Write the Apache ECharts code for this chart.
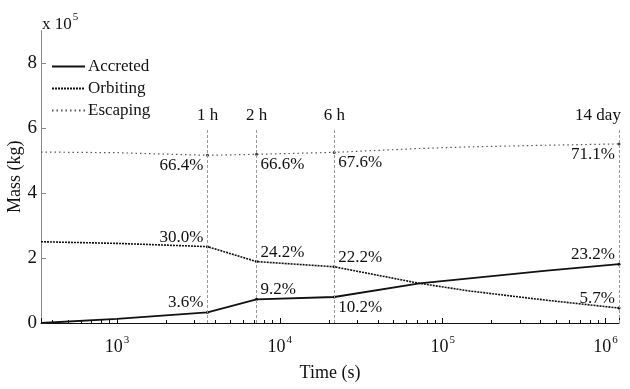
<!DOCTYPE html>
<html>
<head>
<meta charset="utf-8">
<script src="https://cdn.jsdelivr.net/npm/echarts@6/dist/echarts.min.js"></script>
<style>
  html, body { margin: 0; padding: 0; background: #fff; }
  #chart { width: 630px; height: 389px; }
</style>
</head>
<body>
<div id="chart"></div>
<script>
// time samples (s) and masses (x 1e5 kg)
const times = [342, 1000, 3600, 7200, 21600, 72000, 146000, 436000, 1209600]
const accreted = [0.0, 0.13, 0.33, 0.73, 0.80, 1.22, 1.375, 1.61, 1.81]
const orbiting = [2.50, 2.45, 2.35, 1.89, 1.73, 1.22, 0.985, 0.70, 0.46]
const escaping = [5.26, 5.24, 5.16, 5.19, 5.25, 5.37, 5.42, 5.47, 5.51]

// marked instants: index into times, label
const eventIdx = [2, 3, 4, 8]
const eventNames = ['1 h', '2 h', '6 h', '14 day']
const accretedPct = ['3.6%', '9.2%', '10.2%', '23.2%']
const orbitingPct = ['30.0%', '24.2%', '22.2%', '5.7%']
const escapingPct = ['66.4%', '66.6%', '67.6%', '71.1%']

const font = 'Liberation Serif'

// label placement per event: [horizontal, vertical]
const accretedPos = [['left', 'up'], ['right', 'up'], ['right', 'down'], ['left', 'up']]
const orbitingPos = [['left', 'up'], ['right', 'up'], ['right', 'up'], ['left', 'up']]
const escapingPos = [['left', 'down'], ['right', 'down'], ['right', 'down'], ['left', 'down']]

function buildData(values, pct, pos) {
  return times.map((t, i) => {
    const k = eventIdx.indexOf(i)
    const item = { value: [t, values[i] * 1e5] }
    if (k >= 0) {
      const [h, v] = pos[k]
      item.symbol = 'circle'
      item.symbolSize = 3
      item.label = {
        show: true,
        formatter: pct[k],
        position: [1.5, 1.5],
        align: h === 'left' ? 'right' : 'left',
        verticalAlign: v === 'up' ? 'bottom' : 'top',
        offset: [h === 'left' ? -4 : 4, v === 'up' ? -1 : 2],
        fontFamily: font,
        fontSize: 17,
        color: '#111'
      }
    }
    return item
  })
}

const chart = echarts.init(document.getElementById('chart'))

const option = {
  animation: false,
  textStyle: { fontFamily: font },
  title: {
    text: '{a|x 10}{s|5}',
    left: 37,
    top: 7,
    textStyle: {
      rich: {
        a: { fontFamily: font, fontSize: 17, fontWeight: 'normal', color: '#111' },
        s: { fontFamily: font, fontSize: 11, fontWeight: 'normal', color: '#111', padding: [0, 0, 14, 1] }
      }
    }
  },
  legend: {
    orient: 'vertical',
    left: 46,
    top: 53,
    itemWidth: 33,
    itemHeight: 10,
    itemGap: 5,
    itemStyle: { opacity: 0 },
    textStyle: { fontFamily: font, fontSize: 17, color: '#111', padding: [0, 0, 0, -2] },
    data: ['Accreted', 'Orbiting', 'Escaping']
  },
  grid: { left: 41, right: 11, top: 30.5, bottom: 66, containLabel: false, outerBoundsMode: 'none' },
  xAxis: {
    type: 'log',
    min: 342,
    max: 1209600,
    name: 'Time (s)',
    nameLocation: 'middle',
    nameGap: 41,
    nameTextStyle: { fontFamily: font, fontSize: 18, color: '#111' },
    axisLine: { lineStyle: { color: '#111', width: 1 } },
    axisTick: { inside: true, length: 5, lineStyle: { color: '#111' } },
    minorTick: { show: true, splitNumber: 9, length: 3, lineStyle: { color: '#111' } },
    splitLine: { show: false },
    axisLabel: {
      margin: 12,
      showMinLabel: false,
      showMaxLabel: false,
      formatter: (v) => {
        const e = Math.log10(v)
        if (Math.abs(e - Math.round(e)) > 1e-6) return ''
        return '{b|10}{s|' + Math.round(e) + '}'
      },
      rich: {
        b: { fontFamily: font, fontSize: 18, color: '#111' },
        s: { fontFamily: font, fontSize: 11, color: '#111', padding: [0, 0, 14, 1] }
      }
    }
  },
  yAxis: {
    type: 'value',
    min: 0,
    max: 9e5,
    interval: 2e5,
    name: 'Mass (kg)',
    nameLocation: 'middle',
    nameGap: 17,
    nameMoveOverlap: false,
    nameTextStyle: { fontFamily: font, fontSize: 18, color: '#111' },
    axisLine: { show: true, lineStyle: { color: '#888', width: 1 } },
    axisTick: { show: true, inside: true, length: 5, lineStyle: { color: '#888' } },
    splitLine: { show: false },
    axisLabel: {
      margin: 4,
      showMaxLabel: false,
      fontFamily: font,
      fontSize: 19,
      color: '#111',
      formatter: (v) => (v % 2e5 === 0 ? String(v / 1e5) : '')
    }
  },
  series: [
    {
      name: 'Accreted',
      type: 'line',
      symbol: 'none',
      showSymbol: true,
      itemStyle: { color: '#111' },
      lineStyle: { color: '#111', width: 1.8 },
      data: buildData(accreted, accretedPct, accretedPos),
      markLine: {
        silent: true,
        symbol: 'none',
        lineStyle: { color: '#999', type: [3, 2], width: 1 },
        label: {
          show: true,
          position: 'end',
          distance: 4,
          fontFamily: font,
          fontSize: 17,
          color: '#111',
          formatter: (p) => p.name
        },
        data: eventIdx.map((idx, k) => [
          {
            name: eventNames[k],
            coord: [times[idx], 0],
            label: k === eventIdx.length - 1 ? { offset: [-21, 0] } : {}
          },
          { coord: [times[idx], 6e5] }
        ])
      }
    },
    {
      name: 'Orbiting',
      type: 'line',
      symbol: 'none',
      showSymbol: true,
      itemStyle: { color: '#111' },
      lineStyle: { color: '#111', width: 1.6, type: [2, 1] },
      data: buildData(orbiting, orbitingPct, orbitingPos)
    },
    {
      name: 'Escaping',
      type: 'line',
      symbol: 'none',
      showSymbol: true,
      itemStyle: { color: '#444' },
      lineStyle: { color: '#555', width: 1.2, type: [1.5, 3] },
      data: buildData(escaping, escapingPct, escapingPos)
    }
  ]
}

chart.setOption(option)
</script>
</body>
</html>
